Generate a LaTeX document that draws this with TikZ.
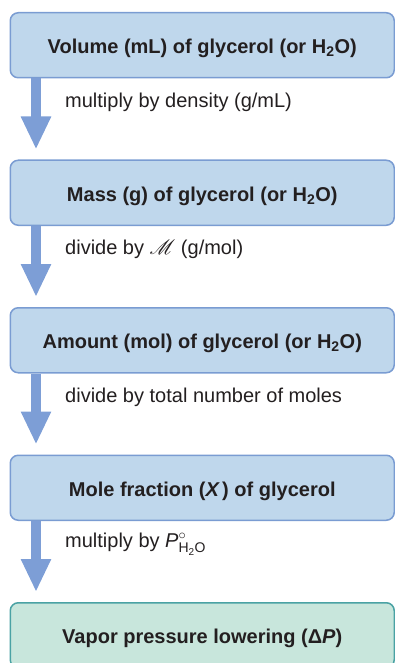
\documentclass[tikz,border=0pt]{standalone}
\usepackage{fontspec}
\usepackage{amsmath}
\usepackage{mathrsfs}
\setmainfont{Liberation Sans}
\usetikzlibrary{arrows.meta}
\definecolor{boxfill}{HTML}{BFD7EC}
\definecolor{boxline}{HTML}{7A9CD2}
\definecolor{arrowcol}{HTML}{7D9ED6}
\definecolor{endfill}{HTML}{C8E6DC}
\definecolor{endline}{HTML}{4AA2A4}
\definecolor{txt}{HTML}{231F20}
\tikzset{
  stepbox/.style={draw=boxline, fill=boxfill, line width=1.5pt, rounded corners=8pt,
    minimum width=384pt, minimum height=65pt, anchor=north west, inner sep=0pt,
    text height=16.5pt, text depth=0pt,
    font=\fontsize{20}{22}\selectfont\bfseries, text=txt},
  endbox/.style={stepbox, draw=endline, fill=endfill},
  fatarrow/.style={draw=arrowcol, line width=10pt,
    -{Triangle[width=28pt,length=33pt]}, shorten >=10pt},
  steplabel/.style={anchor=west, inner sep=0pt, font=\fontsize{20}{22}\selectfont, text=txt}
}
\begin{document}
\begin{tikzpicture}[x=1pt,y=-1pt]
\useasboundingbox (0,0) rectangle (395,663);
\clip (0,0) rectangle (395,663);
\node[stepbox] (b1) at (9.5,12) {Volume (mL) of glycerol (or H\textsubscript{2}O)};
\node[stepbox] (b2) at (9.5,159.5) {Mass (g) of glycerol (or H\textsubscript{2}O)};
\node[stepbox] (b3) at (9.5,307) {Amount (mol) of glycerol (or H\textsubscript{2}O)};
\node[stepbox] (b4) at (9.5,454.5) {Mole fraction (\textit{X\,}) of glycerol};
\node[endbox] (b5) at (9.5,602) {Vapor pressure lowering (Δ\textit{P})};
\coordinate (ax) at (36,0);
\draw[fatarrow] (b1.south -| ax) -- (b2.north -| ax);
\draw[fatarrow] (b2.south -| ax) -- (b3.north -| ax);
\draw[fatarrow] (b3.south -| ax) -- (b4.north -| ax);
\draw[fatarrow] (b4.south -| ax) -- (b5.north -| ax);
\node[steplabel] (l1) at (65,102) {multiply by density (g/mL)};
\node[steplabel] (l2) at (65,249.5) {divide by $\mathscr{M}$ (g/mol)};
\node[steplabel] (l3) at (65,397) {divide by total number of moles};
\node[steplabel] (l4) at (65,544) {multiply by \textit{P}$^{\circ}_{\text{H}_{\text{2}}\text{O}}$};
\end{tikzpicture}
\end{document}
